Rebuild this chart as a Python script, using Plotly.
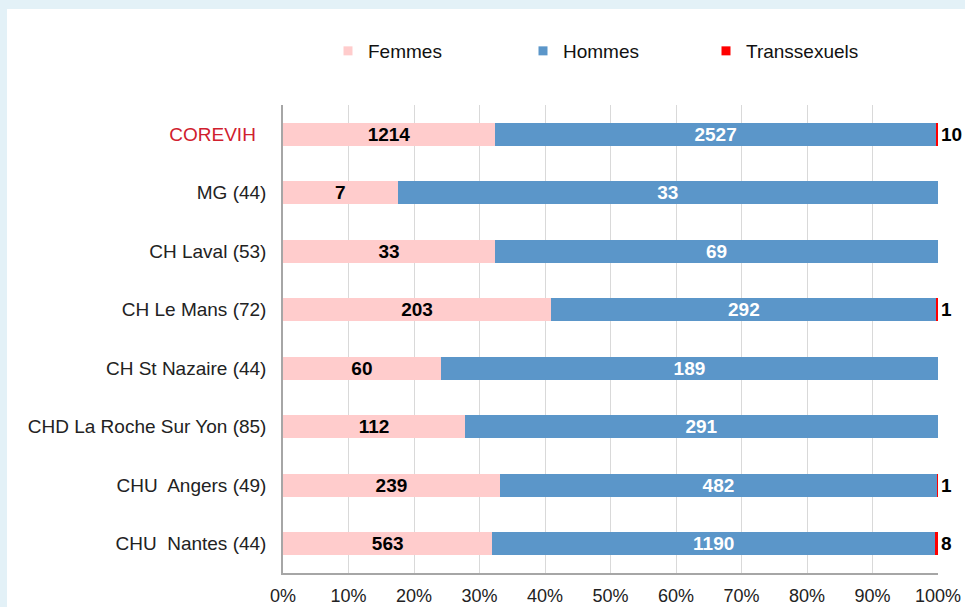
import plotly.graph_objects as go

categories = ["COREVIH", "MG (44)", "CH Laval (53)", "CH Le Mans (72)", "CH St Nazaire (44)",
              "CHD La Roche Sur Yon (85)", "CHU  Angers (49)", "CHU  Nantes (44)"]
femmes = [1214, 7, 33, 203, 60, 112, 239, 563]
hommes = [2527, 33, 69, 292, 189, 291, 482, 1190]
trans = [10, 0, 0, 1, 0, 0, 1, 8]
tick_vals = [0, 0.1, 0.2, 0.3, 0.4, 0.5, 0.6, 0.7, 0.8, 0.9, 1.0]
tick_text = ["0%", "10%", "20%", "30%", "40%", "50%", "60%", "70%", "80%", "90%", "100%"]

totals = [f + h + t for f, h, t in zip(femmes, hommes, trans)]
pf = [f / s for f, s in zip(femmes, totals)]
ph = [h / s for h, s in zip(hommes, totals)]
pt = [t / s for t, s in zip(trans, totals)]

FONT = "Liberation Sans, Arial, sans-serif"
C_F, C_H, C_T = "#ffcccc", "#5b96c9", "#ff0000"

fig = go.Figure()
fig.add_trace(go.Bar(y=categories, x=pf, orientation="h", marker=dict(color=C_F, line_width=0),
                     text=[str(v) for v in femmes], textposition="inside", insidetextanchor="middle",
                     textangle=0,
                     textfont=dict(family=FONT, size=19, color="#000000", weight="bold"),
                     constraintext="none", showlegend=False, hoverinfo="skip"))
fig.add_trace(go.Bar(y=categories, x=ph, orientation="h", marker=dict(color=C_H, line_width=0),
                     text=[str(v) for v in hommes], textposition="inside", insidetextanchor="middle",
                     textangle=0,
                     textfont=dict(family=FONT, size=19, color="#ffffff", weight="bold"),
                     constraintext="none", showlegend=False, hoverinfo="skip"))
fig.add_trace(go.Bar(y=categories, x=pt, orientation="h", marker=dict(color=C_T, line_width=0),
                     text=[str(v) if v else "" for v in trans], textposition="outside",
                     textangle=0,
                     outsidetextfont=dict(family=FONT, size=19, color="#000000", weight="bold"),
                     cliponaxis=False, constraintext="none", showlegend=False, hoverinfo="skip"))

# legend entries
for name, col, leg in [("Femmes", C_F, "legend"), ("Hommes", C_H, "legend2"), ("Transsexuels", C_T, "legend3")]:
    fig.add_trace(go.Scatter(x=[None], y=[None], mode="markers", name=name, legend=leg,
                             marker=dict(symbol="square", size=9, color=col)))

legfont = dict(family=FONT, size=19, color="#111111")
ly = (573 - 51) / 468
def lx(px):
    return (px - 283) / 655

tick_labels = ["<span style='color:#d0202e'>COREVIH</span>&nbsp;&nbsp;"] + categories[1:]

fig.update_layout(
    width=965, height=607, autosize=False,
    margin=dict(l=283, r=27, t=105, b=34),
    paper_bgcolor="#e3f1f7", plot_bgcolor="#ffffff",
    barmode="stack", bargap=0.61,
    font=dict(family=FONT, size=19, color="#222222"),
    legend=dict(x=lx(328), y=ly, xanchor="left", yanchor="middle", font=legfont, bgcolor="rgba(0,0,0,0)"),
    legend2=dict(x=lx(523), y=ly, xanchor="left", yanchor="middle", font=legfont, bgcolor="rgba(0,0,0,0)"),
    legend3=dict(x=lx(706), y=ly, xanchor="left", yanchor="middle", font=legfont, bgcolor="rgba(0,0,0,0)"),
    xaxis=dict(range=[0, 1], tickvals=tick_vals, ticktext=tick_text, showgrid=True,
               gridcolor="#d9d9d9", gridwidth=1, showline=True, linecolor="#a6a6a6", linewidth=1.5,
               zeroline=False, ticks="", ticklabelstandoff=6, automargin=False,
               tickfont=dict(family=FONT, size=18, color="#222222")),
    yaxis=dict(categoryorder="array", categoryarray=categories, autorange="reversed",
               tickvals=categories, ticktext=tick_labels, showline=True, linecolor="#a6a6a6",
               linewidth=1.5, ticks="", ticklabelstandoff=11, showgrid=False, automargin=False,
               tickfont=dict(family=FONT, size=19, color="#222222")),
    shapes=[dict(type="rect", xref="paper", yref="paper", layer="below",
                 x0=lx(7), x1=lx(975), y0=(573 - 620) / 468, y1=(573 - 9) / 468,
                 fillcolor="#ffffff", line_width=0)],
)

fig.write_html("out.html",
               config={"responsive": False, "displayModeBar": False},
               post_script="document.body.style.margin='0';document.body.style.overflow='hidden';")
